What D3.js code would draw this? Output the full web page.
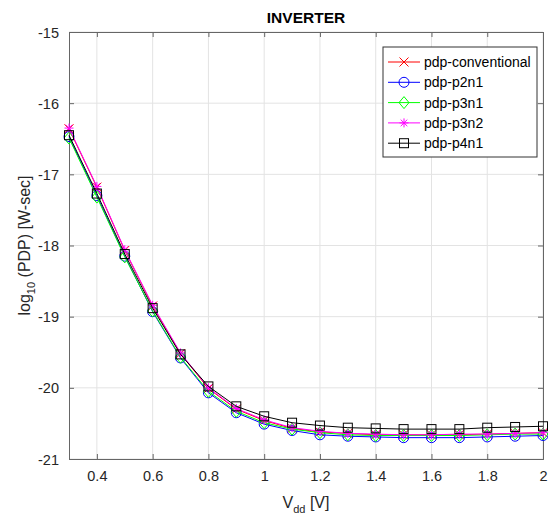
<!DOCTYPE html>
<html><head><meta charset="utf-8">
<script src="https://cdn.jsdelivr.net/npm/d3@7"></script>
<style>body{margin:0;background:#fff;}svg{display:block;font-family:"Liberation Sans",Arial,sans-serif;}</style>
</head><body>
<svg id="c" width="548" height="519"></svg>
<script>
const vdd = [0.3,0.4,0.5,0.6,0.7,0.8,0.9,1.0,1.1,1.2,1.3,1.4,1.5,1.6,1.7,1.8,1.9,2.0];
const pdpConventional = [-16.36,-17.18,-18.07,-18.85,-19.52,-20.01,-20.30,-20.46,-20.57,-20.62,-20.64,-20.66,-20.66,-20.66,-20.66,-20.65,-20.64,-20.63];
const pdpP2n1 = [-16.47,-17.30,-18.15,-18.93,-19.58,-20.07,-20.35,-20.51,-20.60,-20.66,-20.68,-20.69,-20.70,-20.70,-20.70,-20.69,-20.68,-20.67];
const pdpP3n1 = [-16.49,-17.32,-18.16,-18.92,-19.57,-20.05,-20.33,-20.49,-20.58,-20.63,-20.66,-20.67,-20.67,-20.67,-20.67,-20.66,-20.65,-20.65];
const pdpP3n2 = [-16.35,-17.17,-18.06,-18.84,-19.51,-20.00,-20.29,-20.45,-20.56,-20.61,-20.64,-20.65,-20.66,-20.66,-20.65,-20.65,-20.64,-20.63];
const pdpP4n1 = [-16.45,-17.27,-18.12,-18.88,-19.53,-19.98,-20.26,-20.40,-20.49,-20.53,-20.56,-20.57,-20.58,-20.58,-20.58,-20.56,-20.55,-20.54];
const seriesNames = ["pdp-conventional","pdp-p2n1","pdp-p3n1","pdp-p3n2","pdp-p4n1"];
const xTicks = [0.4,0.6,0.8,1,1.2,1.4,1.6,1.8,2];
const yTicks = [-21,-20,-19,-18,-17,-16,-15];

const series = [
  {name:seriesNames[0], values:pdpConventional, color:"#ff0000", marker:"x"},
  {name:seriesNames[1], values:pdpP2n1, color:"#0000ff", marker:"o"},
  {name:seriesNames[2], values:pdpP3n1, color:"#00ff00", marker:"d"},
  {name:seriesNames[3], values:pdpP3n2, color:"#ff00ff", marker:"*"},
  {name:seriesNames[4], values:pdpP4n1, color:"#000000", marker:"s"}
];

const L=69, R=543, T=32, B=459;
const svg = d3.select("#c");
const x = d3.scaleLinear().domain([0.3,2]).range([L,R]);
const y = d3.scaleLinear().domain([-21,-15]).range([B,T]);
const fmt = d => String(d);

// grid
const g = svg.append("g");
g.selectAll("line.gx").data(xTicks).join("line").attr("x1",d=>x(d)).attr("x2",d=>x(d)).attr("y1",T).attr("y2",B).attr("stroke","#e3e3e3").attr("stroke-width",1);
g.selectAll("line.gy").data(yTicks).join("line").attr("y1",d=>y(d)).attr("y2",d=>y(d)).attr("x1",L).attr("x2",R).attr("stroke","#e3e3e3").attr("stroke-width",1);

// axes
const xb = svg.append("g").attr("transform",`translate(0,${B})`).call(d3.axisBottom(x).tickValues(xTicks).tickSize(-5).tickPadding(12).tickFormat(fmt));
const xt = svg.append("g").attr("transform",`translate(0,${T})`).call(d3.axisTop(x).tickValues(xTicks).tickSize(-5).tickFormat(""));
const yl = svg.append("g").attr("transform",`translate(${L},0)`).call(d3.axisLeft(y).tickValues(yTicks).tickSize(-5).tickPadding(10).tickFormat(fmt));
const yr = svg.append("g").attr("transform",`translate(${R},0)`).call(d3.axisRight(y).tickValues(yTicks).tickSize(-5).tickFormat(""));
[xb,xt,yl,yr].forEach(a=>{
  a.select(".domain").attr("stroke","#666").attr("stroke-width",1);
  a.selectAll(".tick line").attr("stroke","#666");
  a.selectAll(".tick text").attr("fill","#262626").attr("font-size",14.5).attr("font-family","Liberation Sans, Arial, sans-serif");
});
yl.selectAll(".tick text").attr("dy","0.35em");

const line = d3.line().x((d,i)=>x(vdd[i])).y(d=>y(d));

function drawMarker(sel, type, cx, cy, color){
  const s=4.5;
  if(type==="x"){
    sel.append("path").attr("d",`M${cx-s},${cy-s}L${cx+s},${cy+s}M${cx-s},${cy+s}L${cx+s},${cy-s}`).attr("stroke",color).attr("fill","none");
  } else if(type==="o"){
    sel.append("circle").attr("cx",cx).attr("cy",cy).attr("r",5).attr("stroke",color).attr("fill","none");
  } else if(type==="d"){
    sel.append("path").attr("d",`M${cx},${cy-6}L${cx+5},${cy}L${cx},${cy+6}L${cx-5},${cy}Z`).attr("stroke",color).attr("fill","none");
  } else if(type==="*"){
    sel.append("path").attr("d",`M${cx-s},${cy}L${cx+s},${cy}M${cx},${cy-s}L${cx},${cy+s}M${cx-3.3},${cy-3.3}L${cx+3.3},${cy+3.3}M${cx-3.3},${cy+3.3}L${cx+3.3},${cy-3.3}`).attr("stroke",color).attr("fill","none");
  } else if(type==="s"){
    sel.append("rect").attr("x",cx-4.5).attr("y",cy-4.5).attr("width",9).attr("height",9).attr("stroke",color).attr("fill","none");
  }
}

const plot = svg.append("g");
series.forEach(s=>{
  const sg = plot.append("g");
  sg.append("path").datum(s.values).attr("d",line).attr("stroke",s.color).attr("stroke-width",1).attr("fill","none");
  s.values.forEach((v,i)=>drawMarker(sg,s.marker,x(vdd[i]),y(v),s.color));
});

// title
svg.append("text").attr("x",(L+R)/2).attr("y",23).attr("text-anchor","middle").attr("font-weight","bold").attr("font-size",15.5).attr("fill","#000").text("INVERTER");

// x label
const xlab = svg.append("text").attr("x",(L+R)/2).attr("y",508).attr("text-anchor","middle").attr("font-size",16).attr("fill","#262626");
xlab.append("tspan").text("V");
xlab.append("tspan").attr("font-size",11).attr("dy",5).text("dd");
xlab.append("tspan").attr("dy",-5).text(" [V]");

// y label
const ylab = svg.append("text").attr("transform",`translate(30,${(T+B)/2}) rotate(-90)`).attr("text-anchor","middle").attr("font-size",16).attr("fill","#262626");
ylab.append("tspan").text("log");
ylab.append("tspan").attr("font-size",11).attr("dy",5).text("10");
ylab.append("tspan").attr("dy",-5).text(" (PDP) [W-sec]");

// legend
const lg = svg.append("g");
lg.append("rect").attr("x",383).attr("y",47).attr("width",154).attr("height",110).attr("fill","#fff").attr("stroke","#333").attr("stroke-width",1);
series.forEach((s,i)=>{
  const ly = 62 + i*20.3;
  lg.append("line").attr("x1",388).attr("x2",420).attr("y1",ly).attr("y2",ly).attr("stroke",s.color);
  drawMarker(lg,s.marker,404,ly,s.color);
  lg.append("text").attr("x",424).attr("y",ly).attr("dy","0.35em").attr("font-size",14).attr("fill","#000").text(s.name);
});
</script>
</body></html>
